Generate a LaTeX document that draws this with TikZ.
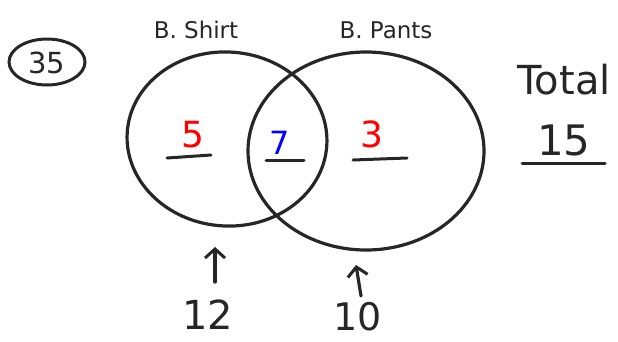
\documentclass[tikz,border=0pt]{standalone}
\usepackage{fontspec}
\setmainfont{DejaVu Sans}
\usetikzlibrary{shapes.geometric,arrows.meta}
\begin{document}
\begin{tikzpicture}[x=1pt,y=-1pt,
  ink/.style={line width=3.2pt,draw=black!85,line cap=round},
  ring/.style={ink,ellipse,inner sep=0pt},
  hand/.style={text=black!85,inner sep=0pt},
  under/.style={ink,line width=3pt},
  up/.style={ink,-{Straight Barb[length=9pt,width=20pt,line width=3pt]}}]
\useasboundingbox (0,0) rectangle (618,341);
% circles
\node[ring,minimum width=200pt,minimum height=174pt,rotate=-4] (shirt) at (227,139) {};
\node[ring,minimum width=236pt,minimum height=198pt] (pants) at (366,151) {};
% labels
\node[hand,font=\fontsize{23}{23}\selectfont] (lshirt) at (196,30) {B. Shirt};
\node[hand,font=\fontsize{23}{23}\selectfont] (lpants) at (386,30) {B. Pants};
\node[ring,minimum width=76pt,minimum height=46pt,line width=3pt] (q) at (47,62) {};
\node[hand,font=\fontsize{29}{29}\selectfont] (qn) at (47,63) {35};
\node[hand,font=\fontsize{40}{40}\selectfont] (total) at (564,80) {Total};
\node[hand,font=\fontsize{42}{42}\selectfont] (tot) at (564,140) {15};
\draw[under] (522,163) -- (605,163);
% region values
\node[hand,text=red,font=\fontsize{36}{36}\selectfont] (a) at (193,135) {5};
\node[hand,text=blue,font=\fontsize{32}{32}\selectfont] (b) at (280,143) {7};
\node[hand,text=red,font=\fontsize{36}{36}\selectfont] (c) at (372,134) {3};
\draw[under] (167,158) -- (211,155);
\draw[under] (266,160) -- (304,160);
\draw[under] (353,160) -- (407,158);
% totals below
\node[hand,font=\fontsize{40}{40}\selectfont] (n12) at (208,315) {12};
\node[hand,font=\fontsize{38}{38}\selectfont] (n10) at (358,317) {10};
\coordinate (sa) at (215,282);
\coordinate (ta) at (215,247);
\coordinate (sb) at (361,296);
\coordinate (tb) at (356,265);
\draw[up] (sa) -- (ta);
\draw[up] (sb) -- (tb);
\end{tikzpicture}
\end{document}
